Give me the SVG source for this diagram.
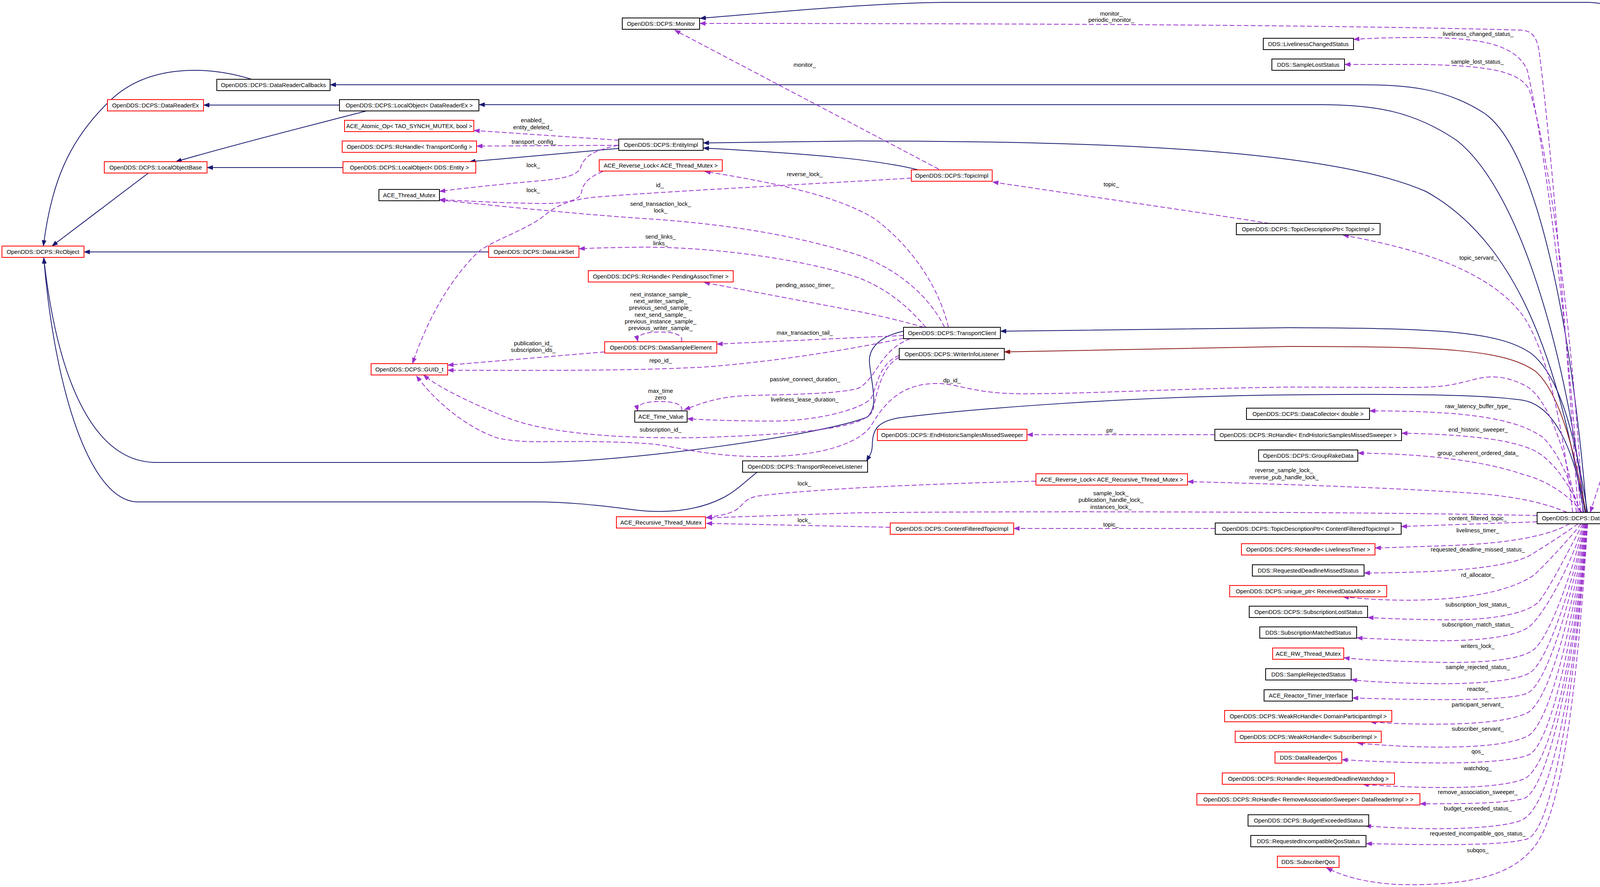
<svg xmlns="http://www.w3.org/2000/svg" width="4515" height="2271" viewBox="0 0 4515 2271">
<style>
.bg{fill:#ffffff}
.node rect{fill:#ffffff;stroke:#000000;stroke-width:2}
.node.red rect{stroke:#ff0000}
.node.cur rect{fill:#bfbfbf}
text{font-family:"Liberation Sans",Arial,sans-serif;font-size:14.8px;text-anchor:middle;fill:#000000}
.inh{fill:none;stroke:#191970;stroke-width:2;marker-end:url(#aN)}
.inr{fill:none;stroke:#8b1a1a;stroke-width:2;marker-end:url(#aR)}
.use{fill:none;stroke:#9a32cd;stroke-width:2;stroke-dasharray:12,6;marker-end:url(#aP)}
</style>
<defs>
<marker id="aN" viewBox="0 0 16 12" refX="15" refY="6" markerWidth="16" markerHeight="12" markerUnits="userSpaceOnUse" orient="auto"><path d="M0,0L16,6L0,12z" fill="#191970"/></marker>
<marker id="aR" viewBox="0 0 16 12" refX="15" refY="6" markerWidth="16" markerHeight="12" markerUnits="userSpaceOnUse" orient="auto"><path d="M0,0L16,6L0,12z" fill="#8b1a1a"/></marker>
<marker id="aP" viewBox="0 0 16 12" refX="15" refY="6" markerWidth="16" markerHeight="12" markerUnits="userSpaceOnUse" orient="auto"><path d="M0,0L16,6L0,12z" fill="#9a32cd"/></marker>
</defs>
<rect class="bg" x="0" y="0" width="4515" height="2271"/>
<g id="connectors">
<!-- inheritance -->
<path class="inh" d="M4380,329 C4350,180 4260,20 4070,6 L2420,6 C2230,8 2000,30 1792,47"/>
<path class="inh" d="M4062,1312 C4020,800 3930,380 3800,290 C3700,225 3600,217 3480,217 L845,217"/>
<path class="inh" d="M4058,1312 C4000,850 3880,480 3730,360 C3620,285 3520,268 3380,268 L1226,268"/>
<path class="inh" d="M869,269 L521,269"/>
<path class="inh" d="M938,284 C800,320 600,370 450,414"/>
<path class="inh" d="M878,429 L530,429"/>
<path class="inh" d="M380,443 L133,630"/>
<path class="inh" d="M644,203 C520,165 380,170 290,250 C170,360 130,480 111,630"/>
<path class="inh" d="M1251,645 L215,645"/>
<path class="inh" d="M1584,380 L1202,414"/>
<path class="inh" d="M4054,1312 C3980,850 3850,600 3650,490 C3400,380 2800,361 2200,361 L1800,366"/>
<path class="inh" d="M2351,435 C2250,410 2100,395 1800,379"/>
<path class="inh" d="M4064,1312 C4030,1100 3990,960 3920,905 C3840,850 3700,840 3300,839 L2561,848"/>
<path class="inr" d="M4060,1312 C4030,1150 3990,1000 3930,950 C3850,895 3700,887 3300,887 L2571,901"/>
<path class="inh" d="M2313,848 C2255,860 2222,890 2226,930 C2232,990 2250,1040 2220,1068 C2100,1115 1600,1184 1366,1184 L400,1184 C250,1184 150,1000 112,660"/>
<path class="inh" d="M1938,1209 C1900,1240 1880,1260 1850,1275 C1780,1310 1700,1315 1620,1305 C1520,1292 1450,1285 1367,1285 L350,1285 C230,1280 140,1000 112,660"/>
<path class="inh" d="M4058,1312 C4030,1150 3980,1040 3900,1025 C3800,1010 3600,1008 3300,1011 C2900,1015 2500,1045 2300,1070 C2245,1080 2234,1100 2233,1140 C2233,1160 2224,1170 2218,1181"/>
<!-- usage -->
<path class="use" d="M4040,1312 C4020,1000 3975,400 3940,130 C3933,90 3920,78 3890,77 C3500,66 2800,60 1791,60"/>
<path class="use" d="M4046,1312 C4020,900 3960,400 3910,180 C3880,110 3780,97 3640,96 C3560,96 3500,98 3465,101"/>
<path class="use" d="M4052,1312 C4030,900 3970,400 3915,230 C3890,180 3800,168 3640,165 L3442,165"/>
<path class="use" d="M1584,359 L1213,334"/>
<path class="use" d="M1584,372 L1220,374"/>
<path class="use" d="M1582,372 C1520,385 1495,400 1486,430 C1478,450 1440,458 1380,463 C1300,470 1200,480 1125,490"/>
<path class="use" d="M1543,439 C1505,455 1492,470 1488,495 C1482,515 1440,522 1380,521 C1300,520 1200,515 1125,511"/>
<path class="use" d="M2418,838 C2380,760 2300,690 2200,654 C2000,590 1800,570 1657,560 C1500,550 1300,530 1125,512"/>
<path class="use" d="M2333,456 C2100,470 1700,490 1520,505 C1430,515 1410,540 1380,562 C1320,600 1250,620 1219,650 C1160,710 1100,800 1056,931"/>
<path class="use" d="M2428,838 C2400,720 2320,620 2239,560 C2150,505 2000,470 1804,439"/>
<path class="use" d="M2403,433 L1727,77"/>
<path class="use" d="M2370,838 C2320,780 2270,740 2200,712 C2050,660 1800,630 1626,633 C1560,634 1520,635 1482,637"/>
<path class="use" d="M2365,838 C2320,825 2260,810 2200,798 L1802,723"/>
<path class="use" d="M2313,859 L1835,881"/>
<path class="use" d="M1745,875 C1750,855 1720,850 1690,850 C1655,850 1628,856 1633,874"/>
<path class="use" d="M1548,901 L1146,935"/>
<path class="use" d="M2313,866 C2200,890 2000,925 1800,940 C1600,950 1400,948 1146,948"/>
<path class="use" d="M2330,867 C2250,900 2250,960 2200,993 C2150,1010 2000,1010 1907,1013 C1830,1017 1790,1035 1752,1049"/>
<path class="use" d="M2302,910 C2250,930 2245,990 2230,1020 C2210,1045 2100,1078 1977,1078 C1880,1078 1800,1075 1759,1072"/>
<path class="use" d="M1745,1052 C1750,1033 1720,1028 1690,1028 C1655,1028 1628,1034 1633,1052"/>
<path class="use" d="M2302,915 C2260,935 2245,1000 2235,1050 C2220,1090 2100,1110 1800,1120 C1600,1125 1400,1110 1300,1070 C1200,1030 1120,990 1084,960"/>
<path class="use" d="M4036,1312 C4010,1150 3960,1010 3900,985 C3860,965 3820,960 3780,970 C3720,985 3700,992 3600,992 L3300,991 C3000,995 2750,1010 2600,1008 C2480,1005 2450,980 2390,982 C2300,985 2260,1040 2230,1090 C2200,1135 2100,1170 1942,1169 C1800,1168 1720,1140 1661,1136 C1550,1128 1420,1131 1366,1131 C1320,1130 1290,1125 1275,1122 C1180,1090 1100,1010 1066,962"/>
<path class="use" d="M4026,1312 C4000,1080 3960,900 3900,810 C3820,700 3650,640 3438,602"/>
<path class="use" d="M3249,572 C3050,540 2800,505 2541,466"/>
<path class="use" d="M4045,1312 C4020,1230 3990,1160 3950,1120 C3880,1070 3750,1052 3506,1052"/>
<path class="use" d="M4048,1312 C4020,1240 3970,1170 3920,1150 C3850,1120 3720,1112 3588,1109"/>
<path class="use" d="M3110,1113 L2629,1113"/>
<path class="use" d="M4050,1312 C4020,1270 3960,1230 3900,1215 C3800,1180 3650,1162 3476,1160"/>
<path class="use" d="M4012,1312 C3960,1290 3900,1275 3800,1265 C3600,1250 3300,1240 3040,1233"/>
<path class="use" d="M3935,1320 C3500,1310 2600,1308 2193,1313 L1808,1326"/>
<path class="use" d="M3935,1336 L3587,1348"/>
<path class="use" d="M3111,1353 L2595,1353"/>
<path class="use" d="M2279,1350 L1808,1340"/>
<path class="use" d="M2652,1232 C2400,1238 2100,1250 1940,1270 C1900,1278 1905,1295 1880,1308 C1860,1318 1830,1322 1808,1325"/>
<path class="use" d="M4018,1341 C3960,1375 3850,1392 3704,1397 C3620,1400 3560,1402 3520,1403"/>
<path class="use" d="M4040,1341 C4000,1370 3960,1395 3920,1420 C3860,1455 3700,1466 3492,1467"/>
<path class="use" d="M4048,1341 C4000,1400 3960,1440 3930,1470 C3850,1530 3650,1550 3438,1528"/>
<path class="use" d="M4052,1341 C4010,1420 3970,1500 3940,1540 C3900,1580 3780,1588 3700,1587 C3600,1586 3540,1583 3501,1581"/>
<path class="use" d="M4054,1341 C4020,1450 3960,1560 3920,1600 C3880,1640 3720,1642 3650,1640 C3570,1638 3510,1635 3473,1633"/>
<path class="use" d="M4056,1341 C4020,1480 3970,1620 3930,1660 C3890,1700 3720,1697 3650,1695 C3540,1692 3470,1688 3440,1684"/>
<path class="use" d="M4058,1341 C4020,1520 3960,1690 3920,1720 C3880,1750 3720,1752 3650,1750 C3540,1748 3490,1744 3459,1740"/>
<path class="use" d="M4059,1341 C4020,1550 3960,1750 3910,1775 C3870,1792 3720,1792 3650,1791 C3560,1790 3500,1788 3462,1787"/>
<path class="use" d="M4060,1341 C4020,1600 3960,1800 3910,1825 C3850,1855 3700,1856 3600,1853 C3560,1852 3530,1850 3508,1848"/>
<path class="use" d="M4061,1341 C4020,1650 3960,1860 3910,1885 C3850,1915 3700,1915 3600,1911 C3540,1908 3500,1905 3475,1902"/>
<path class="use" d="M4062,1341 C4020,1700 3960,1910 3915,1932 C3860,1955 3700,1955 3600,1952 C3520,1950 3470,1947 3435,1945"/>
<path class="use" d="M4063,1341 C4020,1750 3960,1970 3900,1995 C3840,2018 3700,2018 3620,2015 C3560,2013 3520,2011 3489,2008"/>
<path class="use" d="M4064,1341 C4020,1800 3950,2030 3900,2045 C3850,2057 3750,2058 3635,2058"/>
<path class="use" d="M4064,1341 C4020,1850 3960,2080 3890,2102 C3830,2122 3700,2123 3620,2121 C3560,2119 3520,2117 3495,2114"/>
<path class="use" d="M4064,1341 C4020,1900 3960,2130 3910,2148 C3850,2165 3700,2164 3497,2160"/>
<path class="use" d="M4064,1341 C4030,1900 3980,2100 3930,2165 C3880,2230 3800,2260 3640,2265 C3530,2268 3450,2250 3396,2222"/>
<path class="use" d="M4378,358 L4071,1312"/>
<!-- edge labels -->
<text x="2845" y="40">monitor_</text>
<text x="2845" y="56">periodic_monitor_</text>
<text x="3784" y="92">liveliness_changed_status_</text>
<text x="3782" y="163">sample_lost_status_</text>
<text x="1364" y="313">enabled_</text>
<text x="1364" y="331">entity_deleted_</text>
<text x="1367" y="368">transport_config_</text>
<text x="1365" y="428">lock_</text>
<text x="1365" y="492">lock_</text>
<text x="1691" y="527">send_transaction_lock_</text>
<text x="1691" y="544">lock_</text>
<text x="1689" y="479">id_</text>
<text x="2060" y="451">reverse_lock_</text>
<text x="2060" y="171">monitor_</text>
<text x="1691" y="611">send_links_</text>
<text x="1691" y="628">links_</text>
<text x="2061" y="735">pending_assoc_timer_</text>
<text x="2060" y="857">max_transaction_tail_</text>
<text x="1691" y="759">next_instance_sample_</text>
<text x="1691" y="776">next_writer_sample_</text>
<text x="1691" y="793">previous_send_sample_</text>
<text x="1691" y="811">next_send_sample_</text>
<text x="1691" y="828">previous_instance_sample_</text>
<text x="1691" y="845">previous_writer_sample_</text>
<text x="1365" y="884">publication_id_</text>
<text x="1365" y="901">subscription_ids_</text>
<text x="1691" y="928">repo_id_</text>
<text x="2061" y="976">passive_connect_duration_</text>
<text x="2060" y="1028">liveliness_lease_duration_</text>
<text x="1691" y="1006">max_time</text>
<text x="1691" y="1023">zero</text>
<text x="1691" y="1105">subscription_id_</text>
<text x="2437" y="979">dp_id_</text>
<text x="3784" y="665">topic_servant_</text>
<text x="2845" y="477">topic_</text>
<text x="3784" y="1045">raw_latency_buffer_type_</text>
<text x="3784" y="1105">end_historic_sweeper_</text>
<text x="2845" y="1107">ptr_</text>
<text x="3784" y="1165">group_coherent_ordered_data_</text>
<text x="3287" y="1209">reverse_sample_lock_</text>
<text x="3287" y="1227">reverse_pub_handle_lock_</text>
<text x="2844" y="1268">sample_lock_</text>
<text x="2844" y="1285">publication_handle_lock_</text>
<text x="2844" y="1303">instances_lock_</text>
<text x="3783" y="1332">content_filtered_topic_</text>
<text x="2844" y="1348">topic_</text>
<text x="2059" y="1337">lock_</text>
<text x="2059" y="1243">lock_</text>
<text x="3783" y="1363">liveliness_timer_</text>
<text x="3783" y="1412">requested_deadline_missed_status_</text>
<text x="3783" y="1477">rd_allocator_</text>
<text x="3783" y="1553">subscription_lost_status_</text>
<text x="3783" y="1604">subscription_match_status_</text>
<text x="3783" y="1659">writers_lock_</text>
<text x="3783" y="1713">sample_rejected_status_</text>
<text x="3783" y="1769">reactor_</text>
<text x="3783" y="1809">participant_servant_</text>
<text x="3783" y="1871">subscriber_servant_</text>
<text x="3783" y="1929">qos_</text>
<text x="3783" y="1972">watchdog_</text>
<text x="3783" y="2033">remove_association_sweeper_</text>
<text x="3783" y="2075">budget_exceeded_status_</text>
<text x="3783" y="2139">requested_incompatible_qos_status_</text>
<text x="3783" y="2182">subqos_</text>
<text x="4224" y="800">dr_</text>
</g>
<g id="n-DRMonitorImpl" class="node cur"><rect x="4262" y="329" width="246" height="29"/><text x="4385" y="348.5">OpenDDS::DCPS::DRMonitorImpl</text></g>
<g id="n-Monitor" class="node"><rect x="1593" y="46" width="198" height="29"/><text x="1692" y="65.5">OpenDDS::DCPS::Monitor</text></g>
<g id="n-LivelinessChangedStatus" class="node"><rect x="3234" y="98" width="231" height="29"/><text x="3349.5" y="117.5">DDS::LivelinessChangedStatus</text></g>
<g id="n-SampleLostStatus" class="node"><rect x="3256" y="151" width="186" height="29"/><text x="3349" y="170.5">DDS::SampleLostStatus</text></g>
<g id="n-DataReaderCallbacks" class="node"><rect x="555" y="203" width="290" height="29"/><text x="700" y="222.5">OpenDDS::DCPS::DataReaderCallbacks</text></g>
<g id="n-DataReaderEx" class="node red"><rect x="275" y="255" width="246" height="29"/><text x="398" y="274.5">OpenDDS::DCPS::DataReaderEx</text></g>
<g id="n-LocalObjectDataReaderEx" class="node"><rect x="869" y="255" width="357" height="29"/><text x="1047.5" y="274.5">OpenDDS::DCPS::LocalObject&lt; DataReaderEx &gt;</text></g>
<g id="n-ACE_Atomic_Op" class="node red"><rect x="882" y="308" width="331" height="29"/><text x="1047.5" y="327.5">ACE_Atomic_Op&lt; TAO_SYNCH_MUTEX, bool &gt;</text></g>
<g id="n-RcHandleTransportConfig" class="node red"><rect x="876" y="361" width="344" height="29"/><text x="1048" y="380.5">OpenDDS::DCPS::RcHandle&lt; TransportConfig &gt;</text></g>
<g id="n-EntityImpl" class="node"><rect x="1584" y="356" width="216" height="29"/><text x="1692" y="375.5">OpenDDS::DCPS::EntityImpl</text></g>
<g id="n-LocalObjectBase" class="node red"><rect x="267" y="414" width="263" height="29"/><text x="398.5" y="433.5">OpenDDS::DCPS::LocalObjectBase</text></g>
<g id="n-LocalObjectEntity" class="node red"><rect x="878" y="414" width="340" height="29"/><text x="1048" y="433.5">OpenDDS::DCPS::LocalObject&lt; DDS::Entity &gt;</text></g>
<g id="n-ACE_Reverse_Lock_TM" class="node red"><rect x="1534" y="409" width="315" height="29"/><text x="1691.5" y="428.5">ACE_Reverse_Lock&lt; ACE_Thread_Mutex &gt;</text></g>
<g id="n-TopicImpl" class="node red"><rect x="2333" y="435" width="207" height="29"/><text x="2436.5" y="454.5">OpenDDS::DCPS::TopicImpl</text></g>
<g id="n-ACE_Thread_Mutex" class="node"><rect x="970" y="485" width="155" height="29"/><text x="1047.5" y="504.5">ACE_Thread_Mutex</text></g>
<g id="n-TopicDescriptionPtrTopicImpl" class="node"><rect x="3165" y="572" width="368" height="29"/><text x="3349" y="591.5">OpenDDS::DCPS::TopicDescriptionPtr&lt; TopicImpl &gt;</text></g>
<g id="n-RcObject" class="node red"><rect x="5" y="630" width="210" height="29"/><text x="110" y="649.5">OpenDDS::DCPS::RcObject</text></g>
<g id="n-DataLinkSet" class="node red"><rect x="1251" y="630" width="231" height="29"/><text x="1366.5" y="649.5">OpenDDS::DCPS::DataLinkSet</text></g>
<g id="n-RcHandlePendingAssocTimer" class="node red"><rect x="1506" y="693" width="371" height="29"/><text x="1691.5" y="712.5">OpenDDS::DCPS::RcHandle&lt; PendingAssocTimer &gt;</text></g>
<g id="n-TransportClient" class="node"><rect x="2313" y="838" width="248" height="29"/><text x="2437" y="857.5">OpenDDS::DCPS::TransportClient</text></g>
<g id="n-DataSampleElement" class="node red"><rect x="1548" y="875" width="287" height="29"/><text x="1691.5" y="894.5">OpenDDS::DCPS::DataSampleElement</text></g>
<g id="n-WriterInfoListener" class="node"><rect x="2302" y="892" width="269" height="29"/><text x="2436.5" y="911.5">OpenDDS::DCPS::WriterInfoListener</text></g>
<g id="n-GUID_t" class="node red"><rect x="950" y="931" width="196" height="29"/><text x="1048" y="950.5">OpenDDS::DCPS::GUID_t</text></g>
<g id="n-DataCollector" class="node"><rect x="3191" y="1045" width="315" height="29"/><text x="3348.5" y="1064.5">OpenDDS::DCPS::DataCollector&lt; double &gt;</text></g>
<g id="n-ACE_Time_Value" class="node"><rect x="1625" y="1052" width="134" height="29"/><text x="1692" y="1071.5">ACE_Time_Value</text></g>
<g id="n-EndHistoricSamplesMissedSweeper" class="node red"><rect x="2246" y="1099" width="383" height="29"/><text x="2437.5" y="1118.5">OpenDDS::DCPS::EndHistoricSamplesMissedSweeper</text></g>
<g id="n-RcHandleEHSMS" class="node"><rect x="3110" y="1099" width="478" height="29"/><text x="3349" y="1118.5">OpenDDS::DCPS::RcHandle&lt; EndHistoricSamplesMissedSweeper &gt;</text></g>
<g id="n-GroupRakeData" class="node"><rect x="3222" y="1152" width="254" height="29"/><text x="3349" y="1171.5">OpenDDS::DCPS::GroupRakeData</text></g>
<g id="n-TransportReceiveListener" class="node"><rect x="1901" y="1180" width="320" height="29"/><text x="2061" y="1199.5">OpenDDS::DCPS::TransportReceiveListener</text></g>
<g id="n-ACE_Reverse_Lock_RTM" class="node red"><rect x="2652" y="1213" width="388" height="29"/><text x="2846" y="1232.5">ACE_Reverse_Lock&lt; ACE_Recursive_Thread_Mutex &gt;</text></g>
<g id="n-DataReaderImpl" class="node"><rect x="3935" y="1312" width="257" height="29"/><text x="4063.5" y="1331.5">OpenDDS::DCPS::DataReaderImpl</text></g>
<g id="n-ACE_Recursive_Thread_Mutex" class="node red"><rect x="1578" y="1323" width="228" height="29"/><text x="1692" y="1342.5">ACE_Recursive_Thread_Mutex</text></g>
<g id="n-ContentFilteredTopicImpl" class="node red"><rect x="2279" y="1339" width="316" height="29"/><text x="2437" y="1358.5">OpenDDS::DCPS::ContentFilteredTopicImpl</text></g>
<g id="n-TopicDescriptionPtrCFTI" class="node"><rect x="3111" y="1339" width="476" height="29"/><text x="3349" y="1358.5">OpenDDS::DCPS::TopicDescriptionPtr&lt; ContentFilteredTopicImpl &gt;</text></g>
<g id="n-RcHandleLivelinessTimer" class="node red"><rect x="3178" y="1392" width="342" height="29"/><text x="3349" y="1411.5">OpenDDS::DCPS::RcHandle&lt; LivelinessTimer &gt;</text></g>
<g id="n-RequestedDeadlineMissedStatus" class="node"><rect x="3206" y="1446" width="286" height="29"/><text x="3349" y="1465.5">DDS::RequestedDeadlineMissedStatus</text></g>
<g id="n-unique_ptrRDA" class="node red"><rect x="3148" y="1499" width="402" height="29"/><text x="3349" y="1518.5">OpenDDS::DCPS::unique_ptr&lt; ReceivedDataAllocator &gt;</text></g>
<g id="n-SubscriptionLostStatus" class="node"><rect x="3198" y="1552" width="303" height="29"/><text x="3349.5" y="1571.5">OpenDDS::DCPS::SubscriptionLostStatus</text></g>
<g id="n-SubscriptionMatchedStatus" class="node"><rect x="3225" y="1605" width="248" height="29"/><text x="3349" y="1624.5">DDS::SubscriptionMatchedStatus</text></g>
<g id="n-ACE_RW_Thread_Mutex" class="node red"><rect x="3258" y="1659" width="182" height="29"/><text x="3349" y="1678.5">ACE_RW_Thread_Mutex</text></g>
<g id="n-SampleRejectedStatus" class="node"><rect x="3240" y="1712" width="219" height="29"/><text x="3349.5" y="1731.5">DDS::SampleRejectedStatus</text></g>
<g id="n-ACE_Reactor_Timer_Interface" class="node"><rect x="3236" y="1766" width="226" height="29"/><text x="3349" y="1785.5">ACE_Reactor_Timer_Interface</text></g>
<g id="n-WeakRcHandleDPI" class="node red"><rect x="3135" y="1819" width="428" height="29"/><text x="3349" y="1838.5">OpenDDS::DCPS::WeakRcHandle&lt; DomainParticipantImpl &gt;</text></g>
<g id="n-WeakRcHandleSubscriberImpl" class="node red"><rect x="3162" y="1872" width="374" height="29"/><text x="3349" y="1891.5">OpenDDS::DCPS::WeakRcHandle&lt; SubscriberImpl &gt;</text></g>
<g id="n-DataReaderQos" class="node red"><rect x="3264" y="1925" width="171" height="29"/><text x="3349.5" y="1944.5">DDS::DataReaderQos</text></g>
<g id="n-RcHandleRDW" class="node red"><rect x="3129" y="1979" width="441" height="29"/><text x="3349.5" y="1998.5">OpenDDS::DCPS::RcHandle&lt; RequestedDeadlineWatchdog &gt;</text></g>
<g id="n-RcHandleRAS" class="node red"><rect x="3064" y="2032" width="571" height="29"/><text x="3349.5" y="2051.5">OpenDDS::DCPS::RcHandle&lt; RemoveAssociationSweeper&lt; DataReaderImpl &gt; &gt;</text></g>
<g id="n-BudgetExceededStatus" class="node"><rect x="3195" y="2086" width="309" height="29"/><text x="3349.5" y="2105.5">OpenDDS::DCPS::BudgetExceededStatus</text></g>
<g id="n-RequestedIncompatibleQosStatus" class="node"><rect x="3202" y="2139" width="295" height="29"/><text x="3349.5" y="2158.5">DDS::RequestedIncompatibleQosStatus</text></g>
<g id="n-SubscriberQos" class="node red"><rect x="3270" y="2192" width="158" height="29"/><text x="3349" y="2211.5">DDS::SubscriberQos</text></g>
</svg>
